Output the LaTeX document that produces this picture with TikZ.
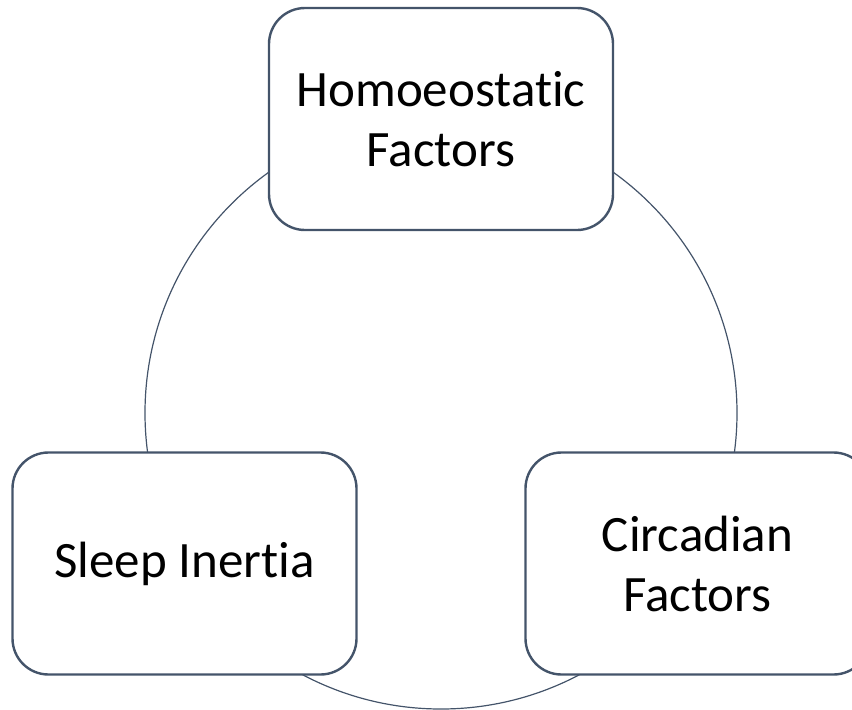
\documentclass[tikz,border=0pt]{standalone}
\usepackage{fontspec}
\setmainfont{Carlito}[Ligatures={NoCommon}]
\definecolor{slate}{HTML}{44546A}

\begin{document}
\begin{tikzpicture}[x=1pt,y=-1pt,
    factor/.style={draw=slate, line width=2.4pt, fill=white, rounded corners=36pt,
      minimum width=344pt, minimum height=222pt, align=center, inner sep=0pt,
      font=\fontsize{51}{60}\selectfont}]
    \useasboundingbox (0,0) rectangle (852,710);
	\coordinate (hub) at (441,413);

	\draw[slate, line width=1.2pt] (hub) circle[radius=296pt];

	\node[factor] (homeo) at (441,119) {Homoeostatic\\Factors};
	\node[factor] (inertia) at (184.5,563.5) {Sleep Inertia};
	\node[factor] (circad) at (697.5,563.5) {Circadian\\Factors};
\end{tikzpicture}
\end{document}
